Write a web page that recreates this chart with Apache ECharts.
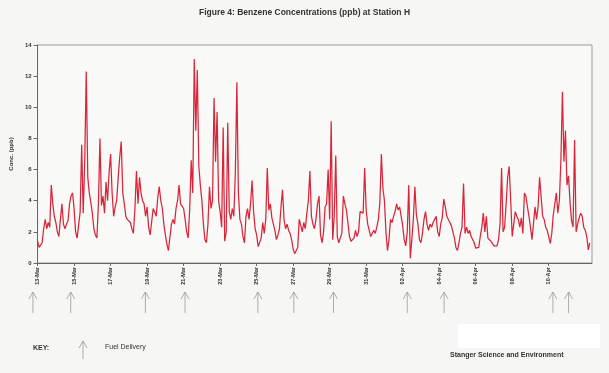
<!DOCTYPE html>
<html>
<head>
<meta charset="utf-8">
<script src="https://cdn.jsdelivr.net/npm/echarts@6/dist/echarts.min.js"></script>
<style>
html,body{margin:0;padding:0;background:#f6f6f4;}
#chart{width:609px;height:373px;}
</style>
</head>
<body>
<div id="chart"></div>
<script>
// Benzene concentration (ppb), read every 2 hours starting 13-Mar 00:00
const stepDays = 1 / 12;
const conc = [
  1.4, 1.0, 0.95, 1.3, 2.2, 2.8, 2.2, 2.6, 2.3, 5.0, 3.8, 3.0,
  2.6, 2.0, 1.7, 2.8, 3.8, 2.5, 2.2, 2.5, 2.7, 3.8, 4.3, 4.5,
  3.5, 2.0, 1.6, 1.7, 3.3, 7.6, 3.2, 6.5, 12.3, 5.5, 4.5, 3.9,
  3.2, 2.2, 1.8, 1.6, 3.8, 8.0, 3.7, 4.3, 3.2, 5.2, 4.0, 5.8,
  7.0, 4.5, 3.0, 3.6, 4.0, 5.5, 6.8, 7.8, 4.5, 3.8, 3.0, 2.8,
  2.7, 2.6, 2.2, 1.9, 3.5, 5.9, 3.8, 5.5, 4.5, 4.0, 3.8, 3.0,
  3.6, 2.3, 1.8, 1.7, 3.5, 3.5, 3.0, 4.2, 4.9, 4.0, 3.5, 2.5,
  1.8, 1.2, 0.8, 0.9, 2.5, 2.8, 2.5, 3.5, 4.0, 5.0, 3.8, 3.9,
  3.5, 2.8, 2.0, 1.6, 3.5, 6.6, 4.5, 13.1, 8.5, 12.4, 6.2, 5.0,
  4.0, 2.5, 1.5, 1.3, 2.5, 4.9, 3.5, 4.0, 10.6, 6.5, 9.7, 4.0,
  3.3, 2.3, 8.7, 1.4, 2.0, 9.0, 3.3, 2.8, 3.5, 3.0, 5.8, 11.6,
  4.5, 2.8, 2.5, 1.7, 1.3, 3.0, 3.5, 2.8, 3.8, 5.3, 3.3, 2.2,
  1.8, 1.05, 1.1, 1.6, 2.6, 1.9, 2.8, 6.1, 3.4, 3.8, 2.9, 2.5,
  2.1, 1.5, 1.8, 2.2, 3.6, 4.7, 2.8, 2.2, 2.5, 2.1, 1.9, 1.5,
  0.9, 0.6, 0.5, 1.0, 2.8, 2.4, 2.0, 2.6, 2.2, 3.2, 4.0, 5.9,
  3.0, 2.5, 2.2, 2.8, 3.8, 4.3, 1.8, 1.3, 2.0, 3.6, 3.8, 6.0,
  2.8, 9.1, 1.5, 3.0, 6.9, 1.7, 1.3, 1.4, 1.9, 4.3, 3.8, 3.4,
  2.6, 1.7, 1.4, 1.4, 1.6, 2.1, 1.7, 2.0, 3.3, 3.3, 3.2, 6.1,
  3.4, 2.5, 2.1, 1.7, 1.8, 2.1, 1.9, 2.3, 2.8, 3.9, 7.0, 4.8,
  4.0, 2.0, 0.8, 1.5, 2.8, 2.6, 3.0, 3.3, 3.8, 3.4, 3.6, 3.0,
  2.4, 1.5, 1.1, 2.0, 5.0, 0.3, 1.5, 2.8, 4.9, 3.1, 2.5, 1.5,
  1.3, 1.9, 2.8, 3.3, 2.5, 2.1, 2.5, 2.3, 2.6, 2.7, 3.0, 2.0,
  1.7, 2.5, 2.9, 4.1, 3.6, 3.0, 2.8, 2.6, 2.4, 2.5, 1.6, 1.0,
  0.8, 1.3, 1.9, 2.3, 5.1, 1.9, 2.3, 1.9, 2.1, 1.7, 1.6, 1.3,
  0.95, 0.84, 1.0, 1.7, 2.3, 3.2, 2.0, 3.0, 1.6, 1.5, 1.4, 1.3,
  1.1, 1.05, 1.1, 1.5, 2.5, 6.1, 2.0, 2.3, 3.8, 5.5, 6.2, 4.0,
  1.7, 1.8, 3.3, 3.0, 2.8, 2.3, 2.9, 1.9, 4.5, 4.3, 3.6, 3.0,
  2.3, 1.5, 1.4, 3.6, 2.8, 3.6, 5.5, 5.6, 3.0, 2.8, 2.3, 2.1,
  1.7, 1.26, 1.9, 3.1, 3.0, 4.5, 3.2, 4.0, 6.6, 11.0, 6.5, 8.5,
  5.0, 5.6, 3.9, 2.7, 2.3, 7.9, 2.0, 2.5, 2.9, 3.2, 3.0, 2.3,
  2.1, 1.7, 0.84, 1.3
];
// x tick labels, one every 2 days from 13-Mar
const tickLabels = ['13-Mar','15-Mar','17-Mar','19-Mar','21-Mar','23-Mar','25-Mar','27-Mar',
  '29-Mar','31-Mar','02-Apr','04-Apr','06-Apr','08-Apr','10-Apr'];
// fuel deliveries, days after 13-Mar 00:00
const deliveryDays = [0.05, 2.1, 6.15, 8.3, 12.25, 14.2, 16.35, 20.35, 22.35, 28.25, 29.1];

const xMax = 30.37;
const titleText = 'Figure 4: Benzene Concentrations (ppb) at Station H';
const yName = 'Conc. (ppb)';

const font = 'Liberation Sans, Arial, sans-serif';
const chart = echarts.init(document.getElementById('chart'), null, {renderer: 'canvas'});

function arrowShape(x, yTop, yBot, color) {
  return {
    type: 'group',
    children: [
      {type: 'line', shape: {x1: x, y1: yTop, x2: x, y2: yBot}, style: {stroke: color, lineWidth: 0.8}},
      {type: 'polyline', shape: {points: [[x - 4, yTop + 7], [x, yTop], [x + 4, yTop + 7]]},
        style: {stroke: color, lineWidth: 0.8, fill: null}}
    ]
  };
}

const tickValues = tickLabels.map((_, i) => i * 2);

const option = {
  backgroundColor: '#f6f6f4',
  animation: false,
  title: {
    text: titleText,
    left: 'center',
    top: 3,
    textStyle: {fontFamily: font, fontSize: 8.5, fontWeight: 'bold', color: '#333'}
  },
  grid: [
    {left: 32, right: 17, top: 45, bottom: 110, show: true, borderColor: '#999', borderWidth: 1,
      backgroundColor: '#f9f9f7'},
    {left: 32, right: 17, top: 292, height: 21}
  ],
  xAxis: [
    {
      type: 'value', gridIndex: 0, min: 0, max: xMax, interval: 2,
      axisLine: {show: true, onZero: false, lineStyle: {color: '#666', width: 1}},
      axisTick: {show: true, length: 3, lineStyle: {color: '#666'}, customValues: tickValues},
      splitLine: {show: false},
      axisLabel: {
        rotate: 90, fontSize: 5.5, color: '#333', fontFamily: font, fontWeight: 'bold', margin: 4,
        customValues: tickValues,
        formatter: function (v) {
          const i = Math.round(v / 2);
          return (Math.abs(v - i * 2) < 1e-6 && tickLabels[i]) ? tickLabels[i] : '';
        }
      }
    },
    {type: 'value', gridIndex: 1, min: 0, max: xMax, show: false}
  ],
  yAxis: [
    {
      type: 'value', gridIndex: 0, min: 0, max: 14, interval: 2,
      name: yName, nameLocation: 'middle', nameGap: 19, nameRotate: 90,
      nameTextStyle: {fontFamily: font, fontSize: 6, fontWeight: 'bold', color: '#333'},
      axisLine: {show: true, lineStyle: {color: '#666', width: 1}},
      axisTick: {show: true, length: 4, lineStyle: {color: '#666'}},
      splitLine: {show: false},
      axisLabel: {fontSize: 6, color: '#333', fontFamily: font, fontWeight: 'bold', margin: 6}
    },
    {type: 'value', gridIndex: 1, min: 0, max: 1, show: false}
  ],
  series: [
    {
      type: 'line',
      xAxisIndex: 0, yAxisIndex: 0,
      data: conc.map((v, i) => [i * stepDays, v]),
      showSymbol: false,
      symbol: 'none',
      lineStyle: {color: '#d8253a', width: 1.25},
      silent: true
    },
    {
      type: 'custom',
      xAxisIndex: 1, yAxisIndex: 1,
      data: deliveryDays.map(d => [d]),
      renderItem: function (params, api) {
        const x = api.coord([api.value(0), 0])[0];
        const yTop = api.coord([0, 1])[1];
        const yBot = api.coord([0, 0])[1];
        return arrowShape(x, yTop, yBot, '#999');
      },
      silent: true
    }
  ],
  graphic: [
    {type: 'rect', left: 458, top: 324, shape: {width: 142, height: 24}, style: {fill: '#ffffff'}},
    {type: 'text', left: 33, top: 345, style: {text: 'KEY:', font: 'bold 7px ' + font, fill: '#333'}},
    arrowShape(83, 341, 359, '#999'),
    {type: 'text', left: 105, top: 344, style: {text: 'Fuel Delivery', font: '7px ' + font, fill: '#333'}},
    {type: 'text', left: 450, top: 352, style: {text: 'Stanger Science and Environment', font: 'bold 7px ' + font, fill: '#333'}}
  ]
};
chart.setOption(option);
</script>
</body>
</html>
